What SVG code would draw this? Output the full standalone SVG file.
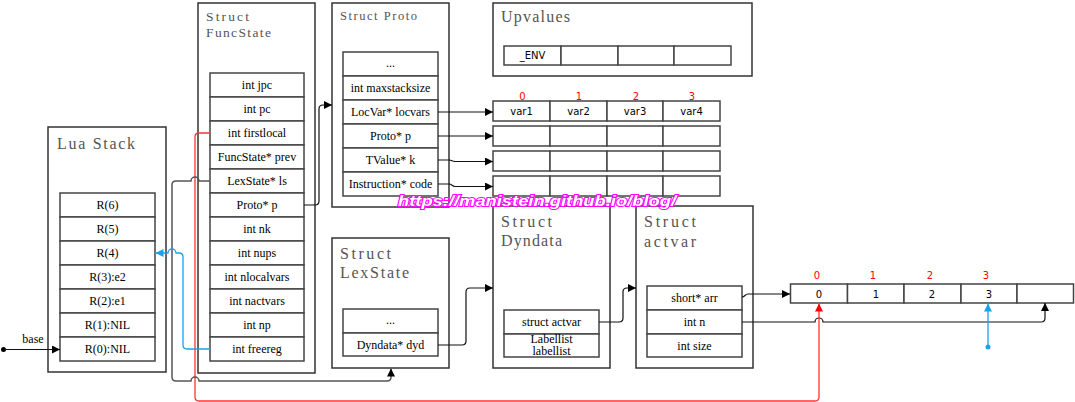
<svg xmlns="http://www.w3.org/2000/svg" width="1075" height="402" viewBox="0 0 1075 402">
<style>
.box{fill:#fff;stroke:#333;stroke-width:1.5}
.cell{fill:#fff;stroke:#444;stroke-width:1.5}
.title{font-family:"Liberation Serif",serif;fill:#555}
.t{font-family:"Liberation Serif",serif;font-size:12px;fill:#000;text-anchor:middle}
.s{font-family:"DejaVu Sans",sans-serif;font-size:10px;fill:#000;text-anchor:middle}
.r{font-family:"DejaVu Sans",sans-serif;font-size:10px;fill:#f00;text-anchor:middle}
.c{fill:none;stroke:#111;stroke-width:1.2}
.g{fill:none;stroke:#555;stroke-width:1.5}
.red{fill:none;stroke:#f33;stroke-width:1.3}
.blue{fill:none;stroke:#1aa3e8;stroke-width:1.3}
</style>
<defs>
<marker id="a" markerUnits="userSpaceOnUse" markerWidth="9" markerHeight="8" refX="8" refY="4" orient="auto"><path d="M0,0 L8,4 L0,8 z" fill="#000"/></marker>
<marker id="ar" markerUnits="userSpaceOnUse" markerWidth="9" markerHeight="8" refX="8" refY="4" orient="auto"><path d="M0,0 L8,4 L0,8 z" fill="#f00"/></marker>
<marker id="ab" markerUnits="userSpaceOnUse" markerWidth="9" markerHeight="8" refX="8" refY="4" orient="auto"><path d="M0,0 L8,4 L0,8 z" fill="#1aa3e8"/></marker>
</defs>
<rect width="1075" height="402" fill="#fff"/>

<g id="luastack">
<rect class="box" x="48" y="127" width="118" height="245"/>
<text class="title" x="57" y="149" font-size="16" textLength="78" lengthAdjust="spacing">Lua Stack</text>
<rect class="cell" x="60" y="193" width="95" height="24"/><text class="t" x="107.5" y="209">R(6)</text>
<rect class="cell" x="60" y="217" width="95" height="24"/><text class="t" x="107.5" y="233">R(5)</text>
<rect class="cell" x="60" y="241" width="95" height="24"/><text class="t" x="107.5" y="257">R(4)</text>
<rect class="cell" x="60" y="265" width="95" height="24"/><text class="t" x="107.5" y="281">R(3):e2</text>
<rect class="cell" x="60" y="289" width="95" height="24"/><text class="t" x="107.5" y="305">R(2):e1</text>
<rect class="cell" x="60" y="313" width="95" height="24"/><text class="t" x="107.5" y="329">R(1):NIL</text>
<rect class="cell" x="60" y="337" width="95" height="24"/><text class="t" x="107.5" y="353">R(0):NIL</text>
</g>

<g id="funcstate">
<rect class="box" x="198" y="3" width="117" height="370"/>
<text class="title" x="206" y="21" font-size="13.5" textLength="43" lengthAdjust="spacing">Struct</text>
<text class="title" x="206" y="37" font-size="13.5" textLength="65" lengthAdjust="spacing">FuncState</text>
<rect class="cell" x="210" y="73" width="94" height="24"/><text class="t" x="257" y="89">int jpc</text>
<rect class="cell" x="210" y="97" width="94" height="24"/><text class="t" x="257" y="113">int pc</text>
<rect class="cell" x="210" y="121" width="94" height="24"/><text class="t" x="257" y="137">int firstlocal</text>
<rect class="cell" x="210" y="145" width="94" height="24"/><text class="t" x="257" y="161">FuncState* prev</text>
<rect class="cell" x="210" y="169" width="94" height="24"/><text class="t" x="257" y="185">LexState* ls</text>
<rect class="cell" x="210" y="193" width="94" height="24"/><text class="t" x="257" y="209">Proto* p</text>
<rect class="cell" x="210" y="217" width="94" height="24"/><text class="t" x="257" y="233">int nk</text>
<rect class="cell" x="210" y="241" width="94" height="24"/><text class="t" x="257" y="257">int nups</text>
<rect class="cell" x="210" y="265" width="94" height="24"/><text class="t" x="257" y="281">int nlocalvars</text>
<rect class="cell" x="210" y="289" width="94" height="24"/><text class="t" x="257" y="305">int nactvars</text>
<rect class="cell" x="210" y="313" width="94" height="24"/><text class="t" x="257" y="329">int np</text>
<rect class="cell" x="210" y="337" width="94" height="24"/><text class="t" x="257" y="353">int freereg</text>
</g>

<g id="proto">
<rect class="box" x="332" y="3" width="117" height="204"/>
<text class="title" x="340" y="20" font-size="12.5" textLength="77" lengthAdjust="spacing">Struct Proto</text>
<rect class="cell" x="343" y="52" width="95" height="24"/><text class="t" x="390.5" y="67">...</text>
<rect class="cell" x="343" y="76" width="95" height="24"/><text class="t" x="390.5" y="92">int maxstacksize</text>
<rect class="cell" x="343" y="100" width="95" height="24"/><text class="t" x="390.5" y="116">LocVar* locvars</text>
<rect class="cell" x="343" y="124" width="95" height="24"/><text class="t" x="390.5" y="140">Proto* p</text>
<rect class="cell" x="343" y="148" width="95" height="24"/><text class="t" x="390.5" y="164">TValue* k</text>
<rect class="cell" x="343" y="172" width="95" height="24"/><text class="t" x="390.5" y="188">Instruction* code</text>
</g>

<g id="upvalues">
<rect class="box" x="493" y="3" width="259" height="73"/>
<text class="title" x="501" y="22" font-size="16" textLength="69" lengthAdjust="spacing">Upvalues</text>
<rect class="cell" x="504" y="46" width="57" height="19"/><text class="s" x="532.5" y="59">_ENV</text>
<rect class="cell" x="561" y="46" width="57" height="19"/>
<rect class="cell" x="618" y="46" width="56" height="19"/>
<rect class="cell" x="674" y="46" width="57" height="19"/>
</g>

<g id="vartables">
<text class="r" x="522.5" y="100">0</text>
<text class="r" x="579" y="100">1</text>
<text class="r" x="636" y="100">2</text>
<text class="r" x="692" y="100">3</text>
<rect class="cell" x="493" y="101" width="57" height="20"/><text class="s" x="521.5" y="115">var1</text>
<rect class="cell" x="550" y="101" width="57" height="20"/><text class="s" x="578.5" y="115">var2</text>
<rect class="cell" x="607" y="101" width="56" height="20"/><text class="s" x="635" y="115">var3</text>
<rect class="cell" x="663" y="101" width="57" height="20"/><text class="s" x="691.5" y="115">var4</text>
<rect class="cell" x="493" y="126" width="57" height="20"/><rect class="cell" x="550" y="126" width="57" height="20"/><rect class="cell" x="607" y="126" width="56" height="20"/><rect class="cell" x="663" y="126" width="57" height="20"/>
<rect class="cell" x="493" y="151" width="57" height="20"/><rect class="cell" x="550" y="151" width="57" height="20"/><rect class="cell" x="607" y="151" width="56" height="20"/><rect class="cell" x="663" y="151" width="57" height="20"/>
<rect class="cell" x="493" y="176" width="57" height="20"/><rect class="cell" x="550" y="176" width="57" height="20"/><rect class="cell" x="607" y="176" width="56" height="20"/><rect class="cell" x="663" y="176" width="57" height="20"/>
</g>

<g id="lexstate">
<rect class="box" x="332" y="238" width="117" height="130"/>
<text class="title" x="340" y="259" font-size="16" textLength="51" lengthAdjust="spacing">Struct</text>
<text class="title" x="340" y="278" font-size="16" textLength="69" lengthAdjust="spacing">LexState</text>
<rect class="cell" x="343" y="309" width="95" height="24"/><text class="t" x="390.5" y="324">...</text>
<rect class="cell" x="343" y="333" width="95" height="23"/><text class="t" x="390.5" y="348.5">Dyndata* dyd</text>
</g>

<g id="dyndata">
<rect class="box" x="493" y="206" width="117" height="162"/>
<text class="title" x="501" y="227" font-size="16" textLength="51" lengthAdjust="spacing">Struct</text>
<text class="title" x="501" y="246" font-size="16" textLength="61" lengthAdjust="spacing">Dyndata</text>
<rect class="cell" x="504" y="310" width="95" height="24"/><text class="t" x="551.5" y="326">struct actvar</text>
<rect class="cell" x="504" y="334" width="95" height="23"/><text class="t" font-size="9"><tspan x="551.5" y="342.5">Labellist</tspan><tspan x="551.5" y="355">labellist</tspan></text>
</g>

<g id="actvar">
<rect class="box" x="636" y="206" width="117" height="162"/>
<text class="title" x="644" y="227" font-size="16" textLength="52" lengthAdjust="spacing">Struct</text>
<text class="title" x="644" y="247" font-size="16" textLength="52" lengthAdjust="spacing">actvar</text>
<rect class="cell" x="647" y="286" width="95" height="24"/><text class="t" x="694.5" y="302">short* arr</text>
<rect class="cell" x="647" y="310" width="95" height="24"/><text class="t" x="694.5" y="326">int n</text>
<rect class="cell" x="647" y="334" width="95" height="23"/><text class="t" x="694.5" y="350">int size</text>
</g>

<g id="arr">
<text class="r" x="817" y="279">0</text>
<text class="r" x="873" y="279">1</text>
<text class="r" x="930" y="279">2</text>
<text class="r" x="986" y="279">3</text>
<rect class="cell" x="790.5" y="284" width="57" height="19"/><text class="s" x="819" y="297.5">0</text>
<rect class="cell" x="847.5" y="284" width="56.5" height="19"/><text class="s" x="876" y="297.5">1</text>
<rect class="cell" x="904" y="284" width="57" height="19"/><text class="s" x="932" y="297.5">2</text>
<rect class="cell" x="961" y="284" width="56" height="19"/><text class="s" x="989" y="297.5">3</text>
<rect class="cell" x="1017" y="284" width="56.5" height="19"/>
</g>

<g id="connectors">
<circle cx="3.5" cy="349.5" r="2.5" fill="#000"/>
<path class="c" d="M3.5,349.5 H60" marker-end="url(#a)"/>
<text class="t" x="33" y="343">base</text>
<path class="c" d="M304,205 H315 Q319,205 319,201 V109 Q319,105 323,105 H332" marker-end="url(#a)"/>
<path class="c" d="M438,112 H493" marker-end="url(#a)"/>
<path class="c" d="M438,136 H493" marker-end="url(#a)"/>
<path class="c" d="M438,160 H449 C452,160 452,161.5 455,161.5 H493" marker-end="url(#a)"/>
<path class="c" d="M438,184 H449 C452,184 452,186.5 455,186.5 H493" marker-end="url(#a)"/>
<path class="c" d="M438,345 H462 Q466,345 466,341 V292 Q466,288 470,288 H493" marker-end="url(#a)"/>
<path class="c" d="M599,322 H619 Q623,322 623,318 V292 Q623,288 627,288 H636" marker-end="url(#a)"/>
<path class="c" d="M742,297 C745,297 745,294 748,294 H790" marker-end="url(#a)"/>
<path class="c" d="M742,322 H815 A4,4 0 0 1 823,322 H1041 Q1045,322 1045,318 V303" marker-end="url(#a)"/>
<path class="red" d="M210,133 H199 Q195,133 195,137 V397 Q195,401 199,401 H815 Q819,401 819,397 V303.5" marker-end="url(#ar)"/>
<path class="g" d="M210,181 H199 A4,4 0 0 0 191,181 H176 Q172,181 172,185 V377 Q172,381 176,381 H191 A4,4 0 0 1 199,381 H387 Q391,381 391,377 V368.5" marker-end="url(#a)"/>
<path class="blue" d="M210,349 H187 Q183,349 183,345 V257 Q183,253 179,253 H176 A4,4 0 0 0 168,253 H155.5" marker-end="url(#ab)"/>
<circle cx="988" cy="347" r="2.5" fill="#1aa3e8"/>
<path class="blue" d="M988,347 V303.5" marker-end="url(#ab)"/>
</g>

<text x="398" y="206" font-family="Liberation Sans,sans-serif" font-weight="bold" font-style="italic" font-size="15" fill="#fff" stroke="#f0f" stroke-width="2" paint-order="stroke" textLength="278" lengthAdjust="spacingAndGlyphs">https://manistein.github.io/blog/</text>
</svg>
